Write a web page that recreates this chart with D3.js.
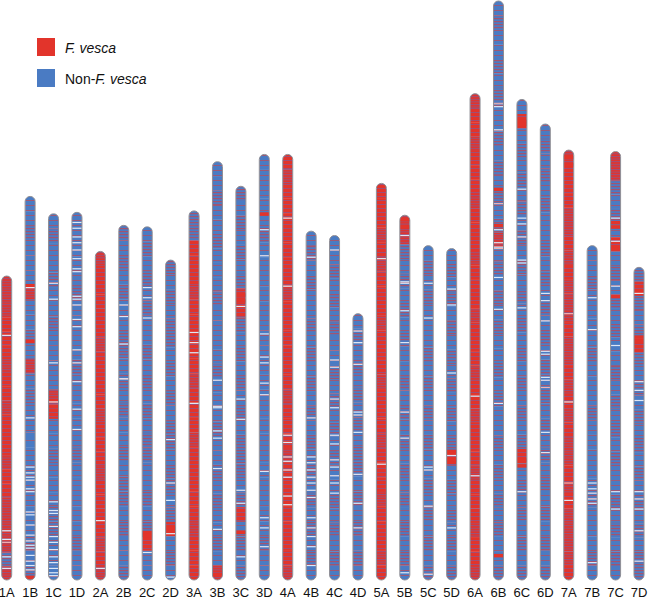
<!DOCTYPE html>
<html><head><meta charset="utf-8">
<script src="https://cdn.jsdelivr.net/npm/d3@7"></script>
<style>html,body{margin:0;padding:0;background:#fff;} svg{display:block;}</style>
</head><body>
<script>
// Chromosome names
const names = ["1A","1B","1C","1D","2A","2B","2C","2D","3A","3B","3C","3D","4A","4B","4C","4D",
               "5A","5B","5C","5D","6A","6B","6C","6D","7A","7B","7C","7D"];
// Chromosome lengths (Mb)
const lengths = [21.0,26.5,25.3,25.4,22.7,24.5,24.4,22.1,25.5,28.9,27.2,29.4,29.4,24.1,23.8,18.4,
                 27.4,25.2,23.1,22.9,33.6,40.0,33.2,31.5,29.7,23.1,29.6,21.6];
// F. vesca share per bin, top to bottom (0 = non-F. vesca ... 4 = F. vesca)
const tones = [
 "3334443443444344333323",
 "11211131121312110111101212",
 "1211211211113411211122110",
 "1111121111211111211111211",
 "34444434444344434444343",
 "212121122121211212212112",
 "121212112121212211212411",
 "2121221212122122124121",
 "2244434444434443444443444",
 "11211211121111211121121211213",
 "212121234212121212221241212",
 "11111211111111111111111111211",
 "43444444434444443444344444443",
 "121211212121212121212121",
 "112121211212121211212121",
 "121212121221212121",
 "444343444344434443444344434",
 "3321212121121212121212121",
 "12121112121212112121212",
 "12121212121212412121212",
 "3443444344434443444344344434443443",
 "1211212112121212312121211212112121212112",
 "141212121212121212121212412121212",
 "1212121121212121212121212121212",
 "344433434333433434343343433334",
 "11211112111211111211121",
 "332121412121211212121211212121",
 "2421242121212121212122"
];
// Gaps (Mb from top of chromosome)
const gaps = [
 [4.1,17.6,18.2,19.4,20.2],
 [6.3,15.3,18.7,19.1,19.4,19.6,20.2,20.4,21.8,22.0,22.7,23.4,23.8,24.1,24.3,24.8,25.2,25.5,25.8],
 [4.8,5.9,10.3,13.0,19.9,20.5,20.7,21.6,22.3,22.7,23.2,23.7,24.1,24.5,24.8,25.0],
 [0.7,1.1,1.7,2.1,2.6,3.2,3.9,4.1,5.8,6.0,6.4,7.4,7.9,9.5,10.4,11.7,13.6,15.0],
 [18.6,21.9],
 [5.5,6.3,8.2,10.6],
 [4.2,4.9,6.3,22.5],
 [12.4,15.4,16.6,18.9,21.9],
 [8.4,9.1,9.8,13.3],
 [15.1,16.9,17.0,18.6,19.1,21.2,25.4],
 [8.3,14.7,16.1,21.0,21.9,25.6],
 [5.2,7.0,12.4,14.0,14.4,15.8,16.6,21.9,25.1,25.8,27.1],
 [4.4,9.1,19.4,19.9,20.9,21.2,21.8,22.3,23.6,24.2],
 [1.8,12.9,15.6,16.0,16.5,17.0,17.4,17.9,18.4,19.8,20.5,21.1,21.8,23.1],
 [1.0,8.6,9.1,11.3,11.9,13.8,14.4,15.5,16.0,16.6,17.1,17.8],
 [1.2,2.0,3.5,6.8,7.0,8.2,11.1,13.1,14.8],
 [5.2,19.4],
 [1.4,4.6,4.7,6.6,8.8,13.6,15.4,24.7],
 [2.6,5.0,15.3,15.5,18.0,22.7],
 [2.8,3.9,8.6,14.3,19.3],
 [20.9,26.4],
 [7.3,8.9,15.8,16.7,17.0,19.1,21.3,27.8],
 [6.2,8.2,8.6,9.5,11.1,11.3,14.4,27.1],
 [11.7,12.2,13.6,15.7,15.9,17.5,17.7,21.3,22.7],
 [17.4,24.2],
 [3.6,5.8,16.4,16.8,17.1,17.5,17.8,21.9],
 [4.6,6.2,9.3,13.4,23.5,24.7],
 [1.8,7.9,8.5,9.2,15.5,16.0,16.7,18.2,20.3]
];
// Solid F. vesca marks (Mb from top)
const redMarks = [
 [], [6.15,10.0,26.3], [12.9,13.3], [], [], [], [21.1,21.3], [18.5,18.8],
 [], [28.5], [7.5,7.9,23.9], [4.1], [], [], [], [],
 [], [0.3,0.8], [], [14.0,14.6], [], [13.0,15.5,38.3], [1.5,1.7,24.9,25.3], [],
 [0.5,1.0], [], [4.9,5.2,6.7,10.0], [1.7,4.8,5.1]
];
// Pale (pink) marks (Mb from top)
const paleMarks = [
 [18.4], [], [], [], [], [10.6], [], [],
 [13.3], [], [], [], [], [], [], [],
 [], [], [], [], [], [7.1,14.0,17.1], [], [18.2],
 [11.3,23.0], [], [], []
];

const W = 650, H = 599;
const RED = "#e2342b", BLUE = "#4a7bc3";
const svg = d3.select("body").append("svg").attr("width", W).attr("height", H);
const defs = svg.append("defs");

// stripe patterns per tone
const patSpec = {
  "0": {bg: BLUE, line: "#a8566e", h: 8, t: 1},
  "1": {bg: BLUE, line: "#b14f62", h: 5, t: 1},
  "2": {bg: BLUE, line: "#b8485a", h: 3, t: 1.2},
  "3": {bg: RED, line: "#845a92", h: 2.6, t: 1},
  "4": {bg: RED, line: "#8e5588", h: 4, t: 1}
};
Object.entries(patSpec).forEach(([k, s]) => {
  const p = defs.append("pattern").attr("id", "pt" + k)
    .attr("patternUnits", "userSpaceOnUse").attr("width", 20).attr("height", s.h);
  p.append("rect").attr("width", 20).attr("height", s.h).attr("fill", s.bg);
  p.append("rect").attr("y", 0).attr("width", 20).attr("height", s.t)
    .attr("fill", s.line).attr("opacity", 0.8);
});

const x = d3.scalePoint().domain(names).range([6.7, 639]);
const y = d3.scaleLinear().domain([0, 40]).range([580, 1]);
const bw = 10;

names.forEach((nm, i) => {
  const L = lengths[i];
  const cx = x(nm);
  const top = y(L), bot = y(0);
  const clipId = "clip" + i;
  defs.append("clipPath").attr("id", clipId).append("rect")
    .attr("x", cx - bw/2).attr("y", top).attr("width", bw).attr("height", bot - top)
    .attr("rx", bw/2).attr("ry", bw/2);
  const g = svg.append("g").attr("clip-path", `url(#${clipId})`);
  const t = tones[i].split("");
  const step = L / t.length;
  g.selectAll("rect.bin").data(t).join("rect").attr("class", "bin")
    .attr("x", cx - bw/2).attr("width", bw)
    .attr("y", (d, j) => y(L - j*step))
    .attr("height", (d, j) => y(L - (j+1)*step) - y(L - j*step) + 0.3)
    .attr("fill", d => `url(#pt${d})`);
  g.selectAll("rect.red").data(redMarks[i]).join("rect").attr("class", "red")
    .attr("x", cx - bw/2).attr("width", bw)
    .attr("y", d => y(L - d) - 1.5).attr("height", 3.5).attr("fill", RED);
  g.selectAll("rect.pale").data(paleMarks[i]).join("rect").attr("class", "pale")
    .attr("x", cx - bw/2).attr("width", bw)
    .attr("y", d => y(L - d) - 0.6).attr("height", 1.2).attr("fill", "#f1b3b3");
  g.selectAll("rect.gap").data(gaps[i]).join("rect").attr("class", "gap")
    .attr("x", cx - bw/2).attr("width", bw)
    .attr("y", d => y(L - d) - 0.6).attr("height", 1.2).attr("fill", "#dfe8f6");
  svg.append("rect").attr("x", cx - bw/2).attr("y", top).attr("width", bw).attr("height", bot - top)
    .attr("rx", bw/2).attr("ry", bw/2).attr("fill", "none")
    .attr("stroke", "#8c8c94").attr("stroke-width", 1);
});

// labels
svg.append("g").selectAll("text").data(names).join("text")
  .attr("x", d => x(d)).attr("y", 597).attr("text-anchor", "middle")
  .attr("font-family", "Liberation Sans, Arial, sans-serif").attr("font-size", 13)
  .attr("fill", "#111").text(d => d);

// legend
const legend = [{c: RED, pre: "", it: "F. vesca"}, {c: BLUE, pre: "Non-", it: "F. vesca"}];
const lg = svg.append("g").selectAll("g").data(legend).join("g")
  .attr("transform", (d, k) => `translate(37,${38 + k*31})`);
lg.append("rect").attr("width", 18).attr("height", 18).attr("fill", d => d.c);
const lt = lg.append("text").attr("x", 28).attr("y", 15)
  .attr("font-family", "Liberation Sans, Arial, sans-serif").attr("font-size", 14).attr("fill", "#111");
lt.append("tspan").text(d => d.pre);
lt.append("tspan").attr("font-style", "italic").text(d => d.it);
</script>
</body></html>
